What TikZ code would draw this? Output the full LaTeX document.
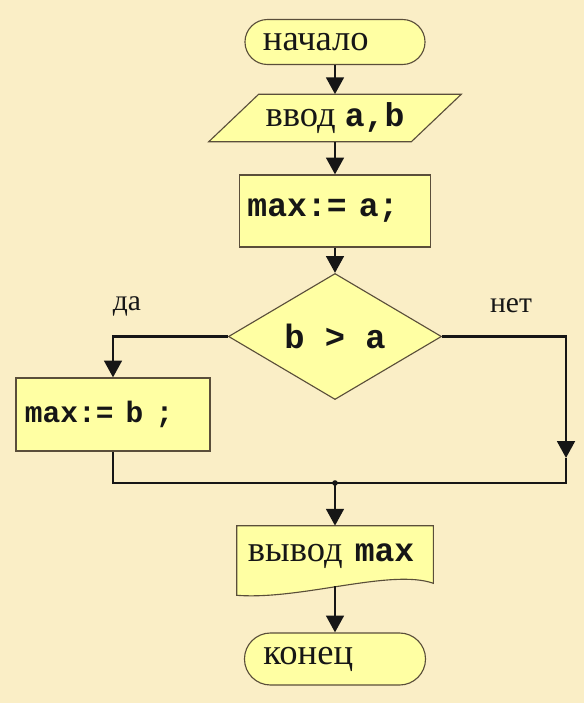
\documentclass[tikz,border=0pt]{standalone}
\usepackage{fontspec}
\setmainfont{Liberation Serif}
\setmonofont{Liberation Mono}
\usepackage{tikz}
\usetikzlibrary{calc,arrows.meta,shapes.geometric}
\definecolor{paper}{HTML}{FAEEC6}
\definecolor{boxfill}{HTML}{FFFFA3}
\definecolor{edge}{HTML}{5A4E3A}
\definecolor{ink}{HTML}{161616}
\pgfdeclarelayer{back}
\pgfsetlayers{back,main}
\newcommand{\kw}[2][23.5]{{\fontsize{#1}{#1}\selectfont\ttfamily\bfseries #2}}
\tikzset{
  box/.style={draw=edge, fill=boxfill, line width=0.8pt, inner sep=0pt, text=ink, font=\fontsize{26}{30}\selectfont},
  term/.style={box, align=left},
  proc/.style={box, align=left},
  io/.style={inner sep=0pt, align=center, text=ink, font=\fontsize{26}{30}\selectfont},
  cond/.style={box, diamond, minimum width=5.325cm, minimum height=2.5cm},
  wire/.style={draw=ink, line width=2.1pt, line join=miter},
  flow/.style={wire, -{Triangle[length=12pt,width=12.5pt]}},
  lab/.style={text=ink, font=\fontsize{21}{24}\selectfont},
}
\begin{document}
\begin{tikzpicture}[x=0.025cm,y=-0.025cm]
  \begin{pgfonlayer}{back}
    \fill[paper] (0,0) rectangle (584,703);
  \end{pgfonlayer}
  \useasboundingbox (0,0) rectangle (584,703);

  \node[term, minimum width=4.5cm, minimum height=1.125cm, rounded corners=0.5625cm,
        inner xsep=0.45cm, text width=3.6cm] (start) at (335,42) {начало};
  \node[io, minimum width=5.05cm, minimum height=1.175cm] (inp) at (335,118) {ввод \kw{a,b}};
  \node[proc, minimum width=4.775cm, minimum height=1.8cm,
        inner xsep=0.2cm, text width=4.375cm] (asgna) at (335,211) {\kw{max:= a;}};
  \node[cond] (dec) at (335,336.5) {\kw[24]{b > a}};
  \node[proc, minimum width=4.85cm, minimum height=1.825cm,
        inner xsep=0.225cm, text width=4.4cm] (asgnb) at (113,414.5) {\kw[21]{max:= b ;}};
  \node[io, minimum width=4.9cm, minimum height=1.5cm, align=left,
        inner xsep=0.275cm, text width=4.35cm] (out) at (335,556) {вывод \kw{max}};
  \node[term, minimum width=4.525cm, minimum height=1.3cm, rounded corners=0.65cm,
        inner xsep=0.475cm, text width=3.575cm] (end) at (335,659) {конец};

  \node[lab] (yes) at (127,306) {да};
  \node[lab] (no) at (511,306) {нет};

  \begin{pgfonlayer}{back}
    \draw[box] ([xshift=0.625cm]inp.north west) -- ([xshift=0.625cm]inp.north east)
      -- ([xshift=-0.625cm]inp.south east) -- ([xshift=-0.625cm]inp.south west) -- cycle;
    \draw[box] ($(out.south west)+(0,9)$) -- (out.north west) -- (out.north east)
      -- ($(out.south east)+(0,-3)$) .. controls +(-42,-15) and +(64,5) .. ($(out.south west)+(0,9)$) -- cycle;
  \end{pgfonlayer}

  \coordinate (ra) at (566,458);
  \coordinate (rj) at (566,483);
  \coordinate (jn) at (335,483);

  \draw[flow] (start) -- (inp);
  \draw[flow] (inp) -- (asgna);
  \draw[flow] (asgna) -- (dec);
  \draw[flow] (dec.west) -| (asgnb.north);
  \draw[flow] (dec.east) -| (ra);
  \draw[wire] (asgnb.south) |- (rj) -- (ra);
  \fill[ink] (jn) circle (0.07cm);
  \draw[flow] (jn) -- (out.north);
  \draw[flow] (out.south) -- (end);
\end{tikzpicture}
\end{document}
